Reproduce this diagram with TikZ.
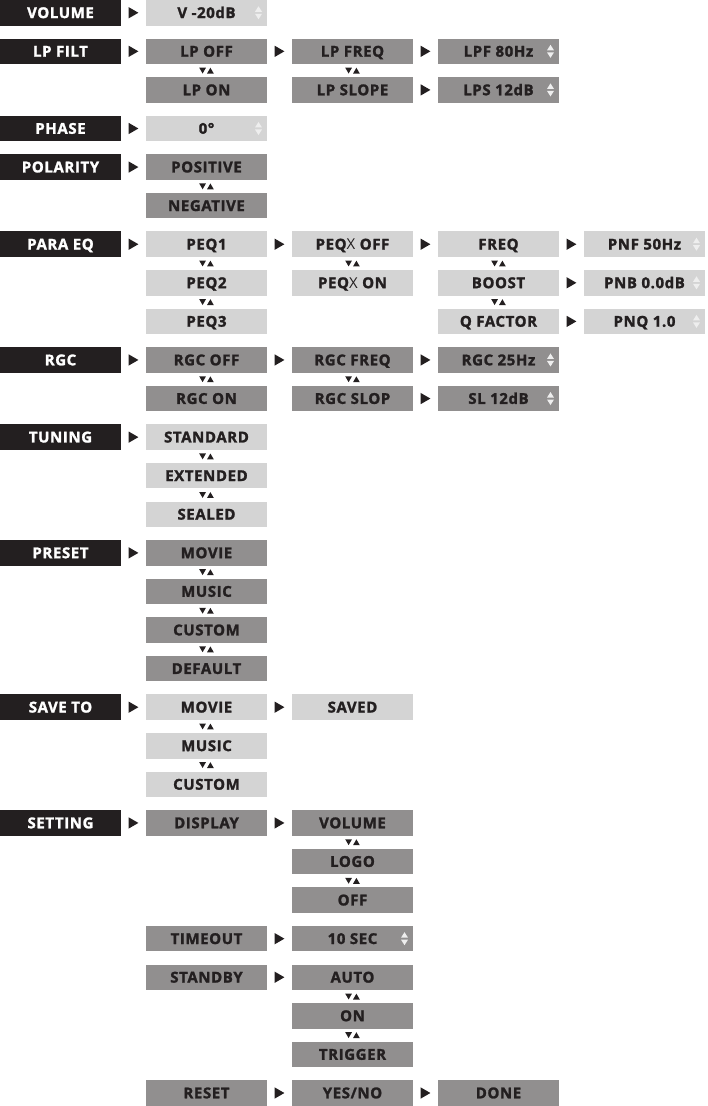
\documentclass[tikz,border=0pt]{standalone}
\usepackage{fontspec}
\setmainfont{Open Sans}[LetterSpace=4, BoldFeatures={FakeBold=1.6}]
\usetikzlibrary{shapes.geometric}
\definecolor{ink}{HTML}{231F20}
\definecolor{dkgrey}{HTML}{918F8F}
\definecolor{ltgrey}{HTML}{D4D4D4}
\definecolor{spincol}{HTML}{EEEEEE}
\tikzset{
  box/.style={minimum width=121pt, minimum height=25.5pt, inner sep=0pt, text height=10.7pt, text depth=0pt,
    font=\fontsize{15}{17}\selectfont\bfseries, text=ink},
  hdr/.style={box, fill=ink, text=white},
  dk/.style={box, fill=dkgrey},
  lt/.style={box, fill=ltgrey},
  spin/.style={path picture={
    \fill[spincol] ([xshift=-12pt,yshift=1pt]path picture bounding box.east) -- ++(7pt,0pt) -- ++(-3.5pt,5.5pt) -- cycle;
    \fill[spincol] ([xshift=-12pt,yshift=-1pt]path picture bounding box.east) -- ++(7pt,0pt) -- ++(-3.5pt,-5.5pt) -- cycle;}},
  nxt/.style={regular polygon, regular polygon sides=3, shape border rotate=-90, minimum size=13pt,
    inner sep=0pt, outer sep=0pt, fill=ink, xshift=-1.6pt},
  tridn/.style={regular polygon, regular polygon sides=3, shape border rotate=180, minimum size=7.8pt,
    inner sep=0pt, outer sep=0pt, fill=ink, xshift=-3.9pt, yshift=1pt},
  triup/.style={regular polygon, regular polygon sides=3, minimum size=7.8pt,
    inner sep=0pt, outer sep=0pt, fill=ink, xshift=3.9pt, yshift=-1pt},
}
\begin{document}
\begin{tikzpicture}[x=146pt, y=-38.58pt]
  \useasboundingbox (-60.5pt,12.75pt) rectangle (646.5pt,-1093.25pt);
  % main menu
  \node[hdr] (volume) at (0,0) {VOLUME};
  \node[hdr] (lpfilt) at (0,1) {LP FILT};
  \node[hdr] (phase) at (0,3) {PHASE};
  \node[hdr] (polarity) at (0,4) {POLARITY};
  \node[hdr] (paraeq) at (0,6) {PARA EQ};
  \node[hdr] (rgc) at (0,9) {RGC};
  \node[hdr] (tuning) at (0,11) {TUNING};
  \node[hdr] (preset) at (0,14) {PRESET};
  \node[hdr] (saveto) at (0,18) {SAVE TO};
  \node[hdr] (setting) at (0,21) {SETTING};
  % volume, lp filter
  \node[lt,spin] (vol) at (1,0) {V -20dB};
  \node[dk] (lpoff) at (1,1) {LP OFF};
  \node[dk] (lpon) at (1,2) {LP ON};
  \node[dk] (lpfreq) at (2,1) {LP FREQ};
  \node[dk] (lpslope) at (2,2) {LP SLOPE};
  \node[dk,spin] (lpf) at (3,1) {LPF 80Hz};
  \node[dk,spin] (lps) at (3,2) {LPS 12dB};
  % phase, polarity
  \node[lt,spin] (ph) at (1,3) {0°};
  \node[dk] (pos) at (1,4) {POSITIVE};
  \node[dk] (neg) at (1,5) {NEGATIVE};
  % para eq
  \node[lt] (peq1) at (1,6) {PEQ1};
  \node[lt] (peq2) at (1,7) {PEQ2};
  \node[lt] (peq3) at (1,8) {PEQ3};
  \node[lt] (peqoff) at (2,6) {PEQ{\mdseries X} OFF};
  \node[lt] (peqon) at (2,7) {PEQ{\mdseries X} ON};
  \node[lt] (freq) at (3,6) {FREQ};
  \node[lt] (boost) at (3,7) {BOOST};
  \node[lt] (qfac) at (3,8) {Q FACTOR};
  \node[lt,spin] (pnf) at (4,6) {PNF 50Hz};
  \node[lt,spin] (pnb) at (4,7) {PNB 0.0dB};
  \node[lt,spin] (pnq) at (4,8) {PNQ 1.0};
  % rgc
  \node[dk] (rgcoff) at (1,9) {RGC OFF};
  \node[dk] (rgcon) at (1,10) {RGC ON};
  \node[dk] (rgcfreq) at (2,9) {RGC FREQ};
  \node[dk] (rgcslop) at (2,10) {RGC SLOP};
  \node[dk,spin] (rgchz) at (3,9) {RGC 25Hz};
  \node[dk,spin] (sl) at (3,10) {SL 12dB};
  % tuning
  \node[lt] (std) at (1,11) {STANDARD};
  \node[lt] (ext) at (1,12) {EXTENDED};
  \node[lt] (sealed) at (1,13) {SEALED};
  % preset
  \node[dk] (movie) at (1,14) {MOVIE};
  \node[dk] (music) at (1,15) {MUSIC};
  \node[dk] (custom) at (1,16) {CUSTOM};
  \node[dk] (default) at (1,17) {DEFAULT};
  % save to
  \node[lt] (smovie) at (1,18) {MOVIE};
  \node[lt] (smusic) at (1,19) {MUSIC};
  \node[lt] (scustom) at (1,20) {CUSTOM};
  \node[lt] (saved) at (2,18) {SAVED};
  % setting
  \node[dk] (display) at (1,21) {DISPLAY};
  \node[dk] (dvol) at (2,21) {VOLUME};
  \node[dk] (logo) at (2,22) {LOGO};
  \node[dk] (off) at (2,23) {OFF};
  \node[dk] (timeout) at (1,24) {TIMEOUT};
  \node[dk,spin] (tsec) at (2,24) {10 SEC};
  \node[dk] (standby) at (1,25) {STANDBY};
  \node[dk] (auto) at (2,25) {AUTO};
  \node[dk] (on) at (2,26) {ON};
  \node[dk] (trigger) at (2,27) {TRIGGER};
  \node[dk] (reset) at (1,28) {RESET};
  \node[dk] (yesno) at (2,28) {YES/NO};
  \node[dk] (done) at (3,28) {DONE};
  % next level
  \foreach \a/\b in {volume/vol, lpfilt/lpoff, lpoff/lpfreq, lpfreq/lpf, lpslope/lps, phase/ph, polarity/pos,
      paraeq/peq1, peq1/peqoff, peqoff/freq, freq/pnf, boost/pnb, qfac/pnq,
      rgc/rgcoff, rgcoff/rgcfreq, rgcfreq/rgchz, rgcslop/sl, tuning/std, preset/movie,
      saveto/smovie, smovie/saved, setting/display, display/dvol, timeout/tsec, standby/auto,
      reset/yesno, yesno/done}
    \path (\a) -- node[nxt]{} (\b);
  % scroll up/down
  \foreach \a/\b in {lpoff/lpon, lpfreq/lpslope, pos/neg, peq1/peq2, peq2/peq3, peqoff/peqon,
      freq/boost, boost/qfac, rgcoff/rgcon, rgcfreq/rgcslop, std/ext, ext/sealed,
      movie/music, music/custom, custom/default, smovie/smusic, smusic/scustom,
      dvol/logo, logo/off, auto/on, on/trigger}
    \path (\a) -- node[tridn]{} node[triup]{} (\b);
\end{tikzpicture}
\end{document}
